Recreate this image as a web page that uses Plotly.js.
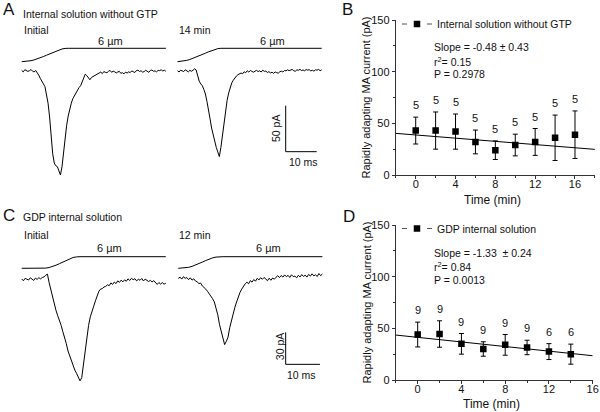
<!DOCTYPE html>
<html><head><meta charset="utf-8">
<script src="https://cdn.plot.ly/plotly-3.0.1.min.js"></script>
<style>html,body{margin:0;padding:0;background:#fff;}#chart{width:600px;height:412px;}</style>
</head><body><div id="chart"></div>
<script>
// ---------------- DATA ----------------
// Panel B: internal solution without GTP
const timeB = [0, 2, 4, 6, 8, 10, 12, 14, 16];
const meanB = [43, 43, 42, 32, 24, 29, 32, 36, 39];
const errB  = [13, 18, 17, 11.5, 9, 10.5, 13, 22, 23];
const nB    = [5, 5, 5, 5, 5, 5, 5, 5, 5];
const fitTimeB = [-2, 18];
const fitB     = [40.3, 24.8];
const statsB = ["Slope = -0.48 \u00b1 0.43", "r<sup>2</sup>= 0.15", "P = 0.2978"];
const legendB = "Internal solution without GTP";

// Panel D: GDP internal solution
const timeD = [0, 2, 4, 6, 8, 10, 12, 14];
const meanD = [44, 44.5, 35, 30, 34, 31.5, 27.5, 25];
const errD  = [12, 12.8, 10, 7, 10, 7, 7.7, 9.7];
const nD    = [9, 9, 9, 9, 9, 9, 6, 6];
const fitTimeD = [-2, 16];
const fitD     = [43.5, 23.5];
const statsD = ["Slope = -1.33  \u00b1 0.24", "r<sup>2</sup>= 0.84", "P = 0.0013"];
const legendD = "GDP internal solution";

// Example current recordings (pA), sampled every 0.5 ms
const sampleMs = 0.5;
const currentA1 = [0.5,-0.9,1.4,0.8,-0.4,0.3,1.6,-0.2,-1.1,0.6,
 -1.5,-4.5,-8,-12,-14,-17,-25,-35,-50,-70,
 -90,-100,-103,-104,-108,-113,-104,-88,-73,-59,
 -49,-41,-35,-30,-27,-23,-21,-18,-16,-12,
 -7,-3.5,-5,-8,-9.5,-7,-6,-5,-3.5,-3,
 -2,-1.2,-2.8,-0.6,-1.5,-1.9,-0.3,0.6,-1.4,-0.2,
 -0.9,-2.1,-1.1,-0.4,-2.6,-1.8,-3.1,-1.2,-2.2,-0.9,
 -1.7,0.1,-0.8,-1.6,0.4,0.9,-0.5,0.3,-1.2,-0.7,
 0.8,-0.2,-1.4,0.6,1.1,-0.3,0.2,-0.9,0.7,0.4,
 1.3,0.0,0.9,-0.4];
const currentA2 = [0.3,-1.1,0.9,0.2,-0.6,1.3,0.1,-0.9,0.7,-0.3,
 0.8,2.4,1.2,-6,-11,-14,-16,-20,-25,-33,
 -41,-52,-62,-70,-78,-83,-88,-93,-83,-71,
 -55,-42,-32,-24,-18,-13,-10,-7,-5.5,-4,
 -3.5,-2.2,-3,-0.8,-1.9,0.3,-1.2,0.6,-0.5,-1.3,
 -0.2,0.7,-0.6,0.2,-1.1,0.9,-0.4,-0.1,-1.6,-0.7,
 -2.1,-1.3,-2.6,-1.0,-1.8,-2.3,-0.9,-0.2,-1.1,0.6,
 0.1,1.3,0.4,0.9,1.7,0.3,-0.3,1.2,0.8,1.8,
 0.5,1.1,0.2,1.6,0.9,1.4,0.1,0.8,-0.2,1.3,
 0.9,1.7,0.4,1.2];
const currentC1 = [0.5,-1.2,1.1,0.3,-0.5,1.6,0.4,-0.9,1.3,0.1,
 1.7,0.6,1.9,2.4,4,5,-3,-10,-17,-23,
 -29,-34,-38,-43,-49,-54,-60,-67,-72,-76,
 -81,-85,-88,-92,-95,-92,-80,-64,-52,-43,
 -35,-29,-25,-20,-15,-11,-9,-8.5,-7,-6.5,
 -5,-5.8,-3.2,-4.6,-2.4,-3.9,-1.3,-2.7,-0.6,-2.2,
 -0.3,-1.7,0.6,-0.9,1.1,-0.2,0.8,-1.3,0.2,-0.7,
 0.9,-1.4,0.4,-0.5,-1.9,-0.8,-2.3,-1.1,-3.2,-4.6,
 -2.8,-4.3,-2.9,-4.4,-3.6];
const currentC2 = [1,2.2,0.4,2.6,1.1,1.8,-0.2,1.6,-0.6,0.7,
 -1.4,-2.2,-3.8,-3.3,-6,-7.2,-9,-11,-13,-15,
 -18,-21,-26,-33,-42,-49,-54,-61,-58,-54,
 -45,-38,-32,-26,-21,-16,-12,-9,-6,-4,
 -2.5,-4,-1,-2.5,0,-1.6,1.1,-0.4,1.7,0.2,
 1.9,0.5,-1.1,1.2,-0.7,1.4,0.3,2.1,3.6,1.8,
 3.7,2.3,4.3,2.6,3.9,2.0,4.4,2.7,3.1,1.6,
 3.9,2.4,4.6,2.9,4.1,2.3,4.8,3.2,5.3,3.4,
 4.4,2.8,5.6,3.6,5.1];

// Mechanical stimulus (probe displacement, µm)
const stimTimeA1 = [0,1,2,3,4,5,6,7,8,9,10,11,12,13,14,15,46.5];
const stimA1     = [0,0.05,0.2,0.45,0.8,1.2,1.7,2.3,2.9,3.5,4.1,4.7,5.2,5.7,5.95,6,6];
const stimTimeA2 = [0,1,2,3,4,5,6,7,8,9,10,11,12,13,14,46.5];
const stimA2     = [0,0.1,0.3,0.6,1.0,1.5,2.0,2.6,3.2,3.8,4.4,5.0,5.5,5.85,6,6];
const stimTimeC1 = [0,6,7,8,9,10,11,12,13,14,15,16,17,42];
const stimC1     = [0,0,0.1,0.4,0.9,1.6,2.4,3.3,4.2,5.0,5.6,5.9,6,6];
const stimTimeC2 = [0,1,2,3,4,5,6,7,8,9,10,11,12,13,42];
const stimC2     = [0,0.05,0.2,0.5,1.0,1.6,2.4,3.2,4.0,4.8,5.4,5.8,6,6,6];

// ---------------- LAYOUT HELPERS ----------------
const W = 600, H = 412, LEFTW = 360;
const FONT = 'Liberation Sans, Arial, Helvetica, sans-serif';
const INK = '#111';
const px = v => v / W;
const py = v => 1 - v / H;
const grid = arr => arr.map((_, i) => +(i * sampleMs).toFixed(2));

function hAxis(originPx, pxPerUnit, extra) {
  return Object.assign({domain: [0, LEFTW / W], range: [-originPx / pxPerUnit, (LEFTW - originPx) / pxPerUnit],
    visible: false, fixedrange: true, anchor: 'y3'}, extra || {});
}
function vAxis(basePx, pxPerUnit, extra) {
  return Object.assign({domain: [0, 1], range: [(basePx - H) / pxPerUnit, basePx / pxPerUnit],
    visible: false, fixedrange: true, anchor: 'x3'}, extra || {});
}
const axStyle = {
  showline: true, linecolor: '#333', linewidth: 1, ticks: 'outside', ticklen: 3, tickwidth: 1,
  tickcolor: '#333', showgrid: false, zeroline: false, fixedrange: true,
  tickfont: {family: FONT, size: 11, color: INK}
};

const traceLine = {color: '#000', width: 1};
function sweep(x, y, xa, ya) {
  return {type: 'scatter', mode: 'lines', x: x, y: y, xaxis: xa, yaxis: ya, line: traceLine, showlegend: false, hoverinfo: 'skip'};
}

const data = [
  sweep(grid(currentA1), currentA1, 'x3', 'y3'),
  sweep(grid(currentA2), currentA2, 'x4', 'y3'),
  sweep(stimTimeA1, stimA1, 'x3', 'y4'),
  sweep(stimTimeA2, stimA2, 'x4', 'y4'),
  sweep(grid(currentC1), currentC1, 'x5', 'y5'),
  sweep(grid(currentC2), currentC2, 'x6', 'y5'),
  sweep(stimTimeC1, stimC1, 'x5', 'y6'),
  sweep(stimTimeC2, stimC2, 'x6', 'y6'),
  // B
  {type: 'scatter', mode: 'lines', x: fitTimeB, y: fitB, xaxis: 'x', yaxis: 'y', line: traceLine, showlegend: false, hoverinfo: 'skip'},
  {type: 'scatter', mode: 'markers', x: timeB, y: meanB, xaxis: 'x', yaxis: 'y', showlegend: false,
   marker: {symbol: 'square', size: 6.5, color: '#000'},
   error_y: {type: 'data', array: errB, visible: true, color: '#000', thickness: 1, width: 2.5}},
  {type: 'scatter', mode: 'lines+markers', x: [null], y: [null], xaxis: 'x', yaxis: 'y', name: legendB, legend: 'legend',
   marker: {symbol: 'square', size: 6.5, color: '#000'}, line: {color: '#555', width: 1, dash: '5px,20px,5px'}},
  // D
  {type: 'scatter', mode: 'lines', x: fitTimeD, y: fitD, xaxis: 'x2', yaxis: 'y2', line: traceLine, showlegend: false, hoverinfo: 'skip'},
  {type: 'scatter', mode: 'markers', x: timeD, y: meanD, xaxis: 'x2', yaxis: 'y2', showlegend: false,
   marker: {symbol: 'square', size: 6.5, color: '#000'},
   error_y: {type: 'data', array: errD, visible: true, color: '#000', thickness: 1, width: 2.5}},
  {type: 'scatter', mode: 'lines+markers', x: [null], y: [null], xaxis: 'x2', yaxis: 'y2', name: legendD, legend: 'legend2',
   marker: {symbol: 'square', size: 6.5, color: '#000'}, line: {color: '#555', width: 1, dash: '5px,20px,5px'}}
];

// ---------------- ANNOTATIONS ----------------
const ann = [];
function txt(text, xPx, yPx, size, opts) {
  ann.push(Object.assign({text: text, xref: 'paper', yref: 'paper', x: px(xPx), y: py(yPx), showarrow: false,
    xanchor: 'left', yanchor: 'middle', font: {family: FONT, size: size, color: INK}}, opts || {}));
}
// panel letters
txt('A', 1, 9.5, 17); txt('B', 339.5, 9.5, 17); txt('C', 1, 215.5, 17); txt('D', 340.5, 216, 17);
// panel A / C texts
txt('Internal solution without GTP', 20.5, 14, 10.5);
txt('Initial', 21.5, 30, 10.5); txt('14 min', 177, 30, 10.5);
txt('6 \u00b5m', 110.8, 40.7, 11, {xanchor: 'center'}); txt('6 \u00b5m', 272.5, 40.7, 11, {xanchor: 'center'});
txt('GDP internal solution', 20.5, 217.3, 10.5);
txt('Initial', 21.5, 235, 10.5); txt('12 min', 177, 235, 10.5);
txt('6 \u00b5m', 110, 248.3, 11, {xanchor: 'center'}); txt('6 \u00b5m', 268.3, 248.3, 11, {xanchor: 'center'});
// scale bar labels
txt('10 ms', 303.3, 161.5, 10.5, {xanchor: 'center'});
txt('50 pA', 276, 129, 10.5, {xanchor: 'center', textangle: -90});
txt('10 ms', 301.7, 375, 10.5, {xanchor: 'center'});
txt('30 pA', 279.5, 346.7, 10.5, {xanchor: 'center', textangle: -90});
// axis titles
txt('Rapidly adapting MA current (pA)', 366, 97.5, 11, {xanchor: 'center', textangle: -90});
txt('Rapidly adapting MA current (pA)', 366, 302.5, 11, {xanchor: 'center', textangle: -90});
txt('Time (min)', 492.3, 200, 12, {xanchor: 'center'});
txt('Time (min)', 491, 404, 12, {xanchor: 'center'});
// stats
txt(statsB[0], 431.5, 46.7, 10.5); txt(statsB[1], 431.5, 61, 10.5); txt(statsB[2], 431.5, 74, 10.5);
txt(statsD[0], 431.5, 252.7, 10.5); txt(statsD[1], 431.5, 266, 10.5); txt(statsD[2], 431.5, 280, 10.5);
// n labels
function nLabels(t, m, e, n, xa, ya) {
  t.forEach((tt, i) => ann.push({text: String(n[i]), x: tt, y: m[i] + e[i], xref: xa, yref: ya, showarrow: false,
    xanchor: 'center', yanchor: 'bottom', yshift: 4, font: {family: FONT, size: 11, color: INK}}));
}
nLabels(timeB, meanB, errB, nB, 'x', 'y');
nLabels(timeD, meanD, errD, nD, 'x2', 'y2');

// scale bars (in recording units)
const barA = {t: 34.9, i: -87.7, dt: 10, di: 50};
const barC = {t: 31.3, i: -79.5, dt: 10, di: 30};
const barLine = {color: '#000', width: 1};
const shapes = [
  {type: 'line', xref: 'x4', yref: 'y3', x0: barA.t, x1: barA.t, y0: barA.i, y1: barA.i + barA.di, line: barLine},
  {type: 'line', xref: 'x4', yref: 'y3', x0: barA.t, x1: barA.t + barA.dt, y0: barA.i, y1: barA.i, line: barLine},
  {type: 'line', xref: 'x6', yref: 'y5', x0: barC.t, x1: barC.t, y0: barC.i, y1: barC.i + barC.di, line: barLine},
  {type: 'line', xref: 'x6', yref: 'y5', x0: barC.t, x1: barC.t + barC.dt, y0: barC.i, y1: barC.i, line: barLine}
];

const legendStyle = {xanchor: 'left', yanchor: 'middle', bgcolor: 'rgba(0,0,0,0)', borderwidth: 0,
  font: {family: FONT, size: 10.5, color: INK}, itemwidth: 30, tracegroupgap: 0};

const xMinor = {dtick: 2, tick0: 0, ticks: 'outside', ticklen: 2, tickcolor: '#333'};
const yMinor = {dtick: 25, ticks: 'outside', ticklen: 2, tickcolor: '#333'};

const layout = {
  width: W, height: H, margin: {l: 0, r: 0, t: 0, b: 0},
  paper_bgcolor: '#fff', plot_bgcolor: 'rgba(0,0,0,0)',
  font: {family: FONT, color: INK},
  showlegend: true,
  legend: Object.assign({x: px(397), y: py(24)}, legendStyle),
  legend2: Object.assign({x: px(397), y: py(228.5)}, legendStyle),
  xaxis: Object.assign({}, axStyle, {domain: [px(395.8), px(594.9)], range: [-2, 18], anchor: 'y', tick0: 0, dtick: 4,
    ticklabelstandoff: -4, minor: xMinor}),
  yaxis: Object.assign({}, axStyle, {domain: [py(175), py(20)], range: [0, 150], anchor: 'x', dtick: 50, minor: yMinor}),
  xaxis2: Object.assign({}, axStyle, {domain: [px(395.8), px(592.7)], range: [-2, 16], anchor: 'y2', tick0: 0, dtick: 4,
    ticklabelstandoff: -4, minor: xMinor}),
  yaxis2: Object.assign({}, axStyle, {domain: [py(380), py(225)], range: [0, 150], anchor: 'x2', dtick: 50, minor: yMinor}),
  xaxis3: hAxis(21.7, 3.1),
  xaxis4: hAxis(177.5, 3.1, {overlaying: 'x3'}),
  xaxis5: hAxis(21.7, 3.43, {overlaying: 'x3'}),
  xaxis6: hAxis(178.3, 3.43, {overlaying: 'x3'}),
  yaxis3: vAxis(71, 0.92),
  yaxis4: vAxis(61.7, 2.233, {overlaying: 'y3'}),
  yaxis5: vAxis(279.5, 1.067, {overlaying: 'y3'}),
  yaxis6: vAxis(268.3, 1.933, {overlaying: 'y3'}),
  annotations: ann,
  shapes: shapes
};

Plotly.newPlot('chart', data, layout, {displayModeBar: false, staticPlot: true});
</script></body></html>
